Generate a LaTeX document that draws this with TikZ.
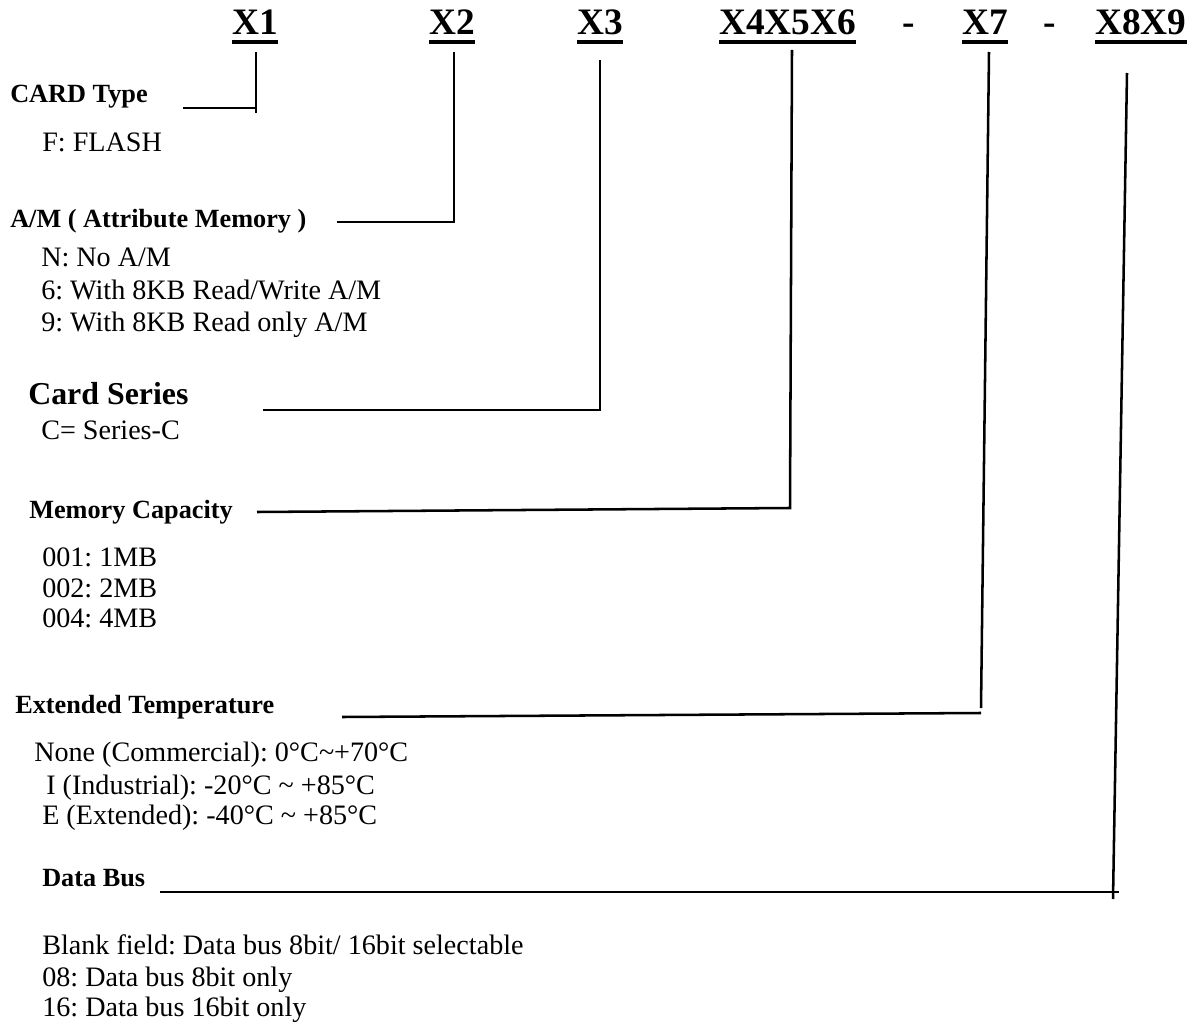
\documentclass[tikz,border=0pt]{standalone}
\usepackage{fontspec}
\setmainfont{Liberation Serif}
\frenchspacing
\tikzset{
  partno/.style={inner sep=0pt, anchor=base west, font=\fontsize{28}{30}\selectfont\bfseries},
  field/.style={inner sep=0pt, anchor=base west, font=\fontsize{19.7}{22}\selectfont\bfseries},
  bigfield/.style={field, font=\fontsize{23.9}{26}\selectfont\bfseries},
  entry/.style={inner sep=0pt, anchor=base west, font=\fontsize{21.1}{23}\selectfont},
  leader/.style={line width=1.9pt},
  uline/.style={line width=2.6pt},
}
\begin{document}
\begin{tikzpicture}[x=0.75pt, y=-0.75pt]
    \useasboundingbox (0,0) rectangle (1192,1023);
    % 1. Part number
    \node[partno] (x1) at (232,35) {X1};
    \node[partno] (x2) at (429,35) {X2};
    \node[partno] (x3) at (577,35) {X3};
    \node[partno] (x456) at (719,35) {X4X5X6};
    \node[partno, anchor=base] (d1) at (909,35) {-};
    \node[partno] (x7) at (962,35) {X7};
    \node[partno, anchor=base] (d2) at (1050,35) {-};
    \node[partno] (x89) at (1095,35) {X8X9};
    \foreach \n in {x1,x2,x3,x456,x7,x89}
        \draw[uline] ([yshift=-5.3pt]\n.base west) -- ([yshift=-5.3pt]\n.base east);

    % 2. Fields and their codes
    \node[field] (type) at (10,103) {CARD Type};
    \node[entry] (type1) at (42,152) {F: FLASH};

    \node[field] (am) at (10,228) {A/M ( Attribute Memory )};
    \node[entry] (am1) at (41,267) {N: No A/M};
    \node[entry] (am2) at (41,300) {6: With 8KB Read/Write A/M};
    \node[entry] (am3) at (41,332) {9: With 8KB Read only A/M};

    \node[bigfield] (series) at (28,405) {Card Series};
    \node[entry] (series1) at (41,439) {C= Series-C};

    \node[field] (mem) at (29,518) {Memory Capacity};
    \node[entry] (mem1) at (42,566) {001: 1MB};
    \node[entry] (mem2) at (42,597) {002: 2MB};
    \node[entry] (mem3) at (42,627) {004: 4MB};

    \node[field] (temp) at (15,713) {Extended Temperature};
    \node[entry] (temp1) at (34,761) {None (Commercial): 0°C\textasciitilde+70°C};
    \node[entry] (temp2) at (46,794) {I (Industrial): -20°C \textasciitilde{} +85°C};
    \node[entry] (temp3) at (42,824) {E (Extended): -40°C \textasciitilde{} +85°C};

    \node[field] (bus) at (42,886) {Data Bus};
    \node[entry] (bus1) at (42,954) {Blank field: Data bus 8bit/ 16bit selectable};
    \node[entry] (bus2) at (42,986) {08: Data bus 8bit only};
    \node[entry] (bus3) at (42,1016) {16: Data bus 16bit only};

    % 3. Leader lines
    \coordinate (a1) at (256,52);  \coordinate (k1) at (256,113);  \coordinate (e1) at (183,108);
    \coordinate (a2) at (454,52);  \coordinate (k2) at (454,222);  \coordinate (e2) at (337,222);
    \coordinate (a3) at (600,60);  \coordinate (k3) at (600,410);  \coordinate (e3) at (263,410);
    \coordinate (a4) at (792,50);  \coordinate (k4) at (790,508);  \coordinate (e4) at (257,512);
    \coordinate (a7) at (989,52);  \coordinate (k7) at (981,708);  \coordinate (e7) at (342,717);
    \coordinate (a8) at (1127,73); \coordinate (k8) at (1113,899); \coordinate (e8) at (160,892);
    \draw[leader] (a1) -- (k1);
    \draw[leader] (e1) -- (e1 -| a1);
    \draw[leader] (a2) -- (k2) -- (e2);
    \draw[leader] (a3) -- (k3) -- (e3);
    \draw[leader] (a4) -- (k4) -- (e4);
    \draw[leader] (a7) -- (k7);
    \draw[leader] (e7) -- (981,713);
    \draw[leader] (a8) -- (k8);
    \draw[leader] (e8) -- (1119,892);
\end{tikzpicture}
\end{document}
